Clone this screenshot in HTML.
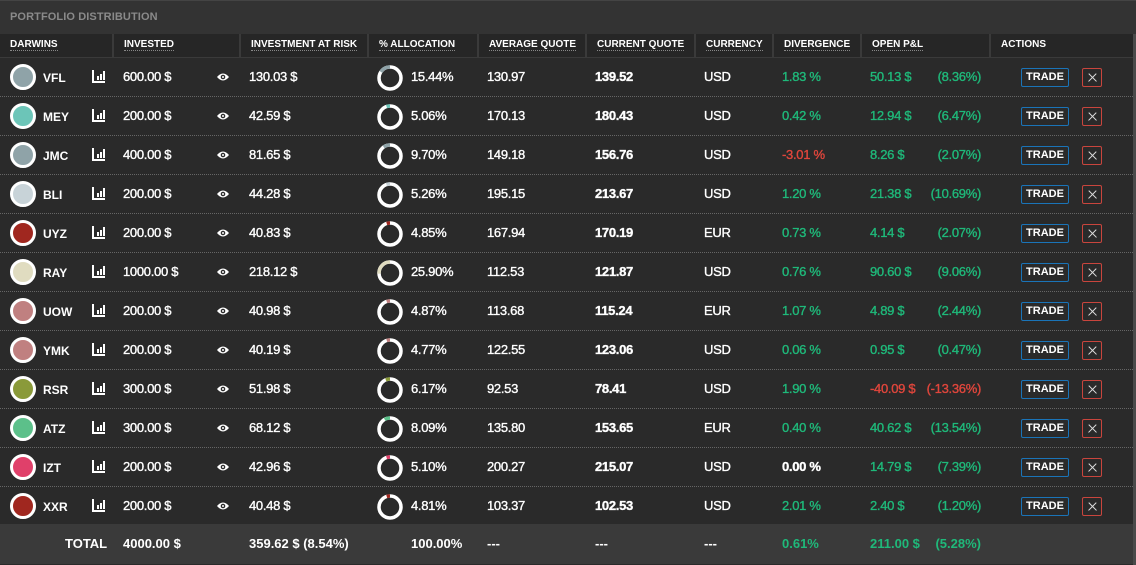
<!DOCTYPE html>
<html><head><meta charset="utf-8">
<style>
*{margin:0;padding:0;box-sizing:border-box}
body{width:1136px;height:565px;background:#2a2a2a;font-family:"Liberation Sans",sans-serif;color:#fff;overflow:hidden;position:relative}
.title{position:absolute;left:0;top:0;width:1136px;height:34px;background:#333;border-top:1px solid #444;font-size:11px;color:#8a8a8a;font-weight:bold;padding:10px 0 0 10px;letter-spacing:0.1px}
.hdr{position:absolute;top:34px;left:0;width:1134px;height:24px;background:#262626;border-bottom:1px solid #3a3a3a}
.hdr div{position:absolute;top:0;height:24px;border-right:2px solid #3a3a3a;font-size:10px;font-weight:bold;padding:5px 0 0 10px}
.hdr span{border-bottom:1px dotted #888}
.row{position:absolute;left:0;width:1133px;height:39px;border-bottom:1px dotted #666;font-size:13px}
.row>*{position:absolute}
.t{top:11px;letter-spacing:-0.3px;-webkit-text-stroke:0.35px currentColor}
.dot{left:10px;top:6px;width:26px;height:26px;border-radius:50%;border:3px solid #fff}
.nm{left:43px;top:13px;font-weight:bold;font-size:12px}
.ic{left:92px;top:12px;width:13px;height:13px;border-left:2px solid #fff;border-bottom:2px solid #fff}
.ic i{position:absolute;bottom:1px;width:2px;background:#fff}
.eye{left:216px;top:14px}
.don{left:376px;top:6px}
.g{color:#1fb97a}.r{color:#e0463c}
.pc{right:152px}
.tr{left:1021px;top:10px;width:48px;height:19px;border:1px solid #1a74b8;border-radius:2px;font-size:11px;font-weight:bold;text-align:center;line-height:17px}
.x{left:1082px;top:10px;width:20px;height:19px;border:1px solid #c9453d;border-radius:2px;background:#2a2a2a}
.x::before,.x::after{content:"";position:absolute;left:4px;top:8px;width:11px;height:1.3px;background:#ddd;transform:rotate(45deg)}
.x::after{transform:rotate(-45deg)}
.b{font-weight:bold}
.tot{position:absolute;left:0;top:524px;width:1133px;height:40px;background:#3a3a3a;font-size:13px;font-weight:bold}
.tot>*{position:absolute;top:12px}
.edge{position:absolute;left:1133px;top:34px;width:3px;height:531px;background:#4a4a4a}
</style></head><body>
<div class="title">PORTFOLIO DISTRIBUTION</div>
<div class="hdr">
<div style="left:0;width:114px"><span>DARWINS</span></div>
<div style="left:114px;width:127px"><span>INVESTED</span></div>
<div style="left:241px;width:128px"><span>INVESTMENT AT RISK</span></div>
<div style="left:369px;width:110px"><span>% ALLOCATION</span></div>
<div style="left:479px;width:108px"><span>AVERAGE QUOTE</span></div>
<div style="left:587px;width:109px"><span>CURRENT QUOTE</span></div>
<div style="left:696px;width:78px"><span>CURRENCY</span></div>
<div style="left:774px;width:88px"><span>DIVERGENCE</span></div>
<div style="left:862px;width:129px"><span>OPEN P&amp;L</span></div>
<div style="left:991px;width:143px;border-right:none">ACTIONS</div>
</div>

<div class="row" style="top:58px"><div class="dot" style="background:#8fa3a8"></div><div class="nm">VFL</div><div class="ic"><i style="left:3px;height:4px"></i><i style="left:6px;height:6px"></i><i style="left:9px;height:9px"></i></div><div class="t" style="left:123px">600.00 $</div><svg class="eye" width="14" height="10" viewBox="0 0 14 10"><path d="M1 5Q7 -2 13 5Q7 12 1 5Z" fill="#fff"/><circle cx="7" cy="5" r="2.3" fill="#2a2a2a"/><circle cx="7" cy="5" r="1" fill="#fff"/></svg><div class="t" style="left:249px">130.03 $</div><svg class="don" width="28" height="28" viewBox="-14 -14 28 28"><circle r="11" fill="none" stroke="#fff" stroke-width="3.5"/><circle r="11" fill="none" stroke="#8fa3a8" stroke-width="3.5" stroke-dasharray="10.67 100" transform="rotate(-90) scale(1,-1)"/></svg><div class="t" style="left:411px">15.44%</div><div class="t" style="left:487px">130.97</div><div class="t b" style="left:595px">139.52</div><div class="t" style="left:704px">USD</div><div class="t g" style="left:782px">1.83 %</div><div class="t g" style="left:870px">50.13 $</div><div class="t g pc">(8.36%)</div><div class="tr">TRADE</div><div class="x"></div></div>

<div class="row" style="top:97px"><div class="dot" style="background:#6cc5b8"></div><div class="nm">MEY</div><div class="ic"><i style="left:3px;height:4px"></i><i style="left:6px;height:6px"></i><i style="left:9px;height:9px"></i></div><div class="t" style="left:123px">200.00 $</div><svg class="eye" width="14" height="10" viewBox="0 0 14 10"><path d="M1 5Q7 -2 13 5Q7 12 1 5Z" fill="#fff"/><circle cx="7" cy="5" r="2.3" fill="#2a2a2a"/><circle cx="7" cy="5" r="1" fill="#fff"/></svg><div class="t" style="left:249px">42.59 $</div><svg class="don" width="28" height="28" viewBox="-14 -14 28 28"><circle r="11" fill="none" stroke="#fff" stroke-width="3.5"/><circle r="11" fill="none" stroke="#6cc5b8" stroke-width="3.5" stroke-dasharray="3.5 100" transform="rotate(-90) scale(1,-1)"/></svg><div class="t" style="left:411px">5.06%</div><div class="t" style="left:487px">170.13</div><div class="t b" style="left:595px">180.43</div><div class="t" style="left:704px">USD</div><div class="t g" style="left:782px">0.42 %</div><div class="t g" style="left:870px">12.94 $</div><div class="t g pc">(6.47%)</div><div class="tr">TRADE</div><div class="x"></div></div>

<div class="row" style="top:136px"><div class="dot" style="background:#8fa3a8"></div><div class="nm">JMC</div><div class="ic"><i style="left:3px;height:4px"></i><i style="left:6px;height:6px"></i><i style="left:9px;height:9px"></i></div><div class="t" style="left:123px">400.00 $</div><svg class="eye" width="14" height="10" viewBox="0 0 14 10"><path d="M1 5Q7 -2 13 5Q7 12 1 5Z" fill="#fff"/><circle cx="7" cy="5" r="2.3" fill="#2a2a2a"/><circle cx="7" cy="5" r="1" fill="#fff"/></svg><div class="t" style="left:249px">81.65 $</div><svg class="don" width="28" height="28" viewBox="-14 -14 28 28"><circle r="11" fill="none" stroke="#fff" stroke-width="3.5"/><circle r="11" fill="none" stroke="#8fa3a8" stroke-width="3.5" stroke-dasharray="6.7 100" transform="rotate(-90) scale(1,-1)"/></svg><div class="t" style="left:411px">9.70%</div><div class="t" style="left:487px">149.18</div><div class="t b" style="left:595px">156.76</div><div class="t" style="left:704px">USD</div><div class="t r" style="left:782px">-3.01 %</div><div class="t g" style="left:870px">8.26 $</div><div class="t g pc">(2.07%)</div><div class="tr">TRADE</div><div class="x"></div></div>

<div class="row" style="top:175px"><div class="dot" style="background:#c8d3d8"></div><div class="nm">BLI</div><div class="ic"><i style="left:3px;height:4px"></i><i style="left:6px;height:6px"></i><i style="left:9px;height:9px"></i></div><div class="t" style="left:123px">200.00 $</div><svg class="eye" width="14" height="10" viewBox="0 0 14 10"><path d="M1 5Q7 -2 13 5Q7 12 1 5Z" fill="#fff"/><circle cx="7" cy="5" r="2.3" fill="#2a2a2a"/><circle cx="7" cy="5" r="1" fill="#fff"/></svg><div class="t" style="left:249px">44.28 $</div><svg class="don" width="28" height="28" viewBox="-14 -14 28 28"><circle r="11" fill="none" stroke="#fff" stroke-width="3.5"/><circle r="11" fill="none" stroke="#c8d3d8" stroke-width="3.5" stroke-dasharray="3.6 100" transform="rotate(-90) scale(1,-1)"/></svg><div class="t" style="left:411px">5.26%</div><div class="t" style="left:487px">195.15</div><div class="t b" style="left:595px">213.67</div><div class="t" style="left:704px">USD</div><div class="t g" style="left:782px">1.20 %</div><div class="t g" style="left:870px">21.38 $</div><div class="t g pc">(10.69%)</div><div class="tr">TRADE</div><div class="x"></div></div>

<div class="row" style="top:214px"><div class="dot" style="background:#a0271f"></div><div class="nm">UYZ</div><div class="ic"><i style="left:3px;height:4px"></i><i style="left:6px;height:6px"></i><i style="left:9px;height:9px"></i></div><div class="t" style="left:123px">200.00 $</div><svg class="eye" width="14" height="10" viewBox="0 0 14 10"><path d="M1 5Q7 -2 13 5Q7 12 1 5Z" fill="#fff"/><circle cx="7" cy="5" r="2.3" fill="#2a2a2a"/><circle cx="7" cy="5" r="1" fill="#fff"/></svg><div class="t" style="left:249px">40.83 $</div><svg class="don" width="28" height="28" viewBox="-14 -14 28 28"><circle r="11" fill="none" stroke="#fff" stroke-width="3.5"/><circle r="11" fill="none" stroke="#a0271f" stroke-width="3.5" stroke-dasharray="3.35 100" transform="rotate(-90) scale(1,-1)"/></svg><div class="t" style="left:411px">4.85%</div><div class="t" style="left:487px">167.94</div><div class="t b" style="left:595px">170.19</div><div class="t" style="left:704px">EUR</div><div class="t g" style="left:782px">0.73 %</div><div class="t g" style="left:870px">4.14 $</div><div class="t g pc">(2.07%)</div><div class="tr">TRADE</div><div class="x"></div></div>

<div class="row" style="top:253px"><div class="dot" style="background:#e0dcc0"></div><div class="nm">RAY</div><div class="ic"><i style="left:3px;height:4px"></i><i style="left:6px;height:6px"></i><i style="left:9px;height:9px"></i></div><div class="t" style="left:123px">1000.00 $</div><svg class="eye" width="14" height="10" viewBox="0 0 14 10"><path d="M1 5Q7 -2 13 5Q7 12 1 5Z" fill="#fff"/><circle cx="7" cy="5" r="2.3" fill="#2a2a2a"/><circle cx="7" cy="5" r="1" fill="#fff"/></svg><div class="t" style="left:249px">218.12 $</div><svg class="don" width="28" height="28" viewBox="-14 -14 28 28"><circle r="11" fill="none" stroke="#fff" stroke-width="3.5"/><circle r="11" fill="none" stroke="#e0dcc0" stroke-width="3.5" stroke-dasharray="17.9 100" transform="rotate(-90) scale(1,-1)"/></svg><div class="t" style="left:411px">25.90%</div><div class="t" style="left:487px">112.53</div><div class="t b" style="left:595px">121.87</div><div class="t" style="left:704px">USD</div><div class="t g" style="left:782px">0.76 %</div><div class="t g" style="left:870px">90.60 $</div><div class="t g pc">(9.06%)</div><div class="tr">TRADE</div><div class="x"></div></div>

<div class="row" style="top:292px"><div class="dot" style="background:#c08080"></div><div class="nm">UOW</div><div class="ic"><i style="left:3px;height:4px"></i><i style="left:6px;height:6px"></i><i style="left:9px;height:9px"></i></div><div class="t" style="left:123px">200.00 $</div><svg class="eye" width="14" height="10" viewBox="0 0 14 10"><path d="M1 5Q7 -2 13 5Q7 12 1 5Z" fill="#fff"/><circle cx="7" cy="5" r="2.3" fill="#2a2a2a"/><circle cx="7" cy="5" r="1" fill="#fff"/></svg><div class="t" style="left:249px">40.98 $</div><svg class="don" width="28" height="28" viewBox="-14 -14 28 28"><circle r="11" fill="none" stroke="#fff" stroke-width="3.5"/><circle r="11" fill="none" stroke="#c08080" stroke-width="3.5" stroke-dasharray="3.37 100" transform="rotate(-90) scale(1,-1)"/></svg><div class="t" style="left:411px">4.87%</div><div class="t" style="left:487px">113.68</div><div class="t b" style="left:595px">115.24</div><div class="t" style="left:704px">EUR</div><div class="t g" style="left:782px">1.07 %</div><div class="t g" style="left:870px">4.89 $</div><div class="t g pc">(2.44%)</div><div class="tr">TRADE</div><div class="x"></div></div>

<div class="row" style="top:331px"><div class="dot" style="background:#c08080"></div><div class="nm">YMK</div><div class="ic"><i style="left:3px;height:4px"></i><i style="left:6px;height:6px"></i><i style="left:9px;height:9px"></i></div><div class="t" style="left:123px">200.00 $</div><svg class="eye" width="14" height="10" viewBox="0 0 14 10"><path d="M1 5Q7 -2 13 5Q7 12 1 5Z" fill="#fff"/><circle cx="7" cy="5" r="2.3" fill="#2a2a2a"/><circle cx="7" cy="5" r="1" fill="#fff"/></svg><div class="t" style="left:249px">40.19 $</div><svg class="don" width="28" height="28" viewBox="-14 -14 28 28"><circle r="11" fill="none" stroke="#fff" stroke-width="3.5"/><circle r="11" fill="none" stroke="#c08080" stroke-width="3.5" stroke-dasharray="3.3 100" transform="rotate(-90) scale(1,-1)"/></svg><div class="t" style="left:411px">4.77%</div><div class="t" style="left:487px">122.55</div><div class="t b" style="left:595px">123.06</div><div class="t" style="left:704px">USD</div><div class="t g" style="left:782px">0.06 %</div><div class="t g" style="left:870px">0.95 $</div><div class="t g pc">(0.47%)</div><div class="tr">TRADE</div><div class="x"></div></div>

<div class="row" style="top:370px"><div class="dot" style="background:#8a9a3a"></div><div class="nm">RSR</div><div class="ic"><i style="left:3px;height:4px"></i><i style="left:6px;height:6px"></i><i style="left:9px;height:9px"></i></div><div class="t" style="left:123px">300.00 $</div><svg class="eye" width="14" height="10" viewBox="0 0 14 10"><path d="M1 5Q7 -2 13 5Q7 12 1 5Z" fill="#fff"/><circle cx="7" cy="5" r="2.3" fill="#2a2a2a"/><circle cx="7" cy="5" r="1" fill="#fff"/></svg><div class="t" style="left:249px">51.98 $</div><svg class="don" width="28" height="28" viewBox="-14 -14 28 28"><circle r="11" fill="none" stroke="#fff" stroke-width="3.5"/><circle r="11" fill="none" stroke="#8a9a3a" stroke-width="3.5" stroke-dasharray="4.26 100" transform="rotate(-90) scale(1,-1)"/></svg><div class="t" style="left:411px">6.17%</div><div class="t" style="left:487px">92.53</div><div class="t b" style="left:595px">78.41</div><div class="t" style="left:704px">USD</div><div class="t g" style="left:782px">1.90 %</div><div class="t r" style="left:870px">-40.09 $</div><div class="t r pc">(-13.36%)</div><div class="tr">TRADE</div><div class="x"></div></div>

<div class="row" style="top:409px"><div class="dot" style="background:#5cc08a"></div><div class="nm">ATZ</div><div class="ic"><i style="left:3px;height:4px"></i><i style="left:6px;height:6px"></i><i style="left:9px;height:9px"></i></div><div class="t" style="left:123px">300.00 $</div><svg class="eye" width="14" height="10" viewBox="0 0 14 10"><path d="M1 5Q7 -2 13 5Q7 12 1 5Z" fill="#fff"/><circle cx="7" cy="5" r="2.3" fill="#2a2a2a"/><circle cx="7" cy="5" r="1" fill="#fff"/></svg><div class="t" style="left:249px">68.12 $</div><svg class="don" width="28" height="28" viewBox="-14 -14 28 28"><circle r="11" fill="none" stroke="#fff" stroke-width="3.5"/><circle r="11" fill="none" stroke="#5cc08a" stroke-width="3.5" stroke-dasharray="5.6 100" transform="rotate(-90) scale(1,-1)"/></svg><div class="t" style="left:411px">8.09%</div><div class="t" style="left:487px">135.80</div><div class="t b" style="left:595px">153.65</div><div class="t" style="left:704px">EUR</div><div class="t g" style="left:782px">0.40 %</div><div class="t g" style="left:870px">40.62 $</div><div class="t g pc">(13.54%)</div><div class="tr">TRADE</div><div class="x"></div></div>

<div class="row" style="top:448px"><div class="dot" style="background:#e0406a"></div><div class="nm">IZT</div><div class="ic"><i style="left:3px;height:4px"></i><i style="left:6px;height:6px"></i><i style="left:9px;height:9px"></i></div><div class="t" style="left:123px">200.00 $</div><svg class="eye" width="14" height="10" viewBox="0 0 14 10"><path d="M1 5Q7 -2 13 5Q7 12 1 5Z" fill="#fff"/><circle cx="7" cy="5" r="2.3" fill="#2a2a2a"/><circle cx="7" cy="5" r="1" fill="#fff"/></svg><div class="t" style="left:249px">42.96 $</div><svg class="don" width="28" height="28" viewBox="-14 -14 28 28"><circle r="11" fill="none" stroke="#fff" stroke-width="3.5"/><circle r="11" fill="none" stroke="#e0406a" stroke-width="3.5" stroke-dasharray="3.5 100" transform="rotate(-90) scale(1,-1)"/></svg><div class="t" style="left:411px">5.10%</div><div class="t" style="left:487px">200.27</div><div class="t b" style="left:595px">215.07</div><div class="t" style="left:704px">USD</div><div class="t b" style="left:782px">0.00 %</div><div class="t g" style="left:870px">14.79 $</div><div class="t g pc">(7.39%)</div><div class="tr">TRADE</div><div class="x"></div></div>

<div class="row" style="top:487px"><div class="dot" style="background:#a0271f"></div><div class="nm">XXR</div><div class="ic"><i style="left:3px;height:4px"></i><i style="left:6px;height:6px"></i><i style="left:9px;height:9px"></i></div><div class="t" style="left:123px">200.00 $</div><svg class="eye" width="14" height="10" viewBox="0 0 14 10"><path d="M1 5Q7 -2 13 5Q7 12 1 5Z" fill="#fff"/><circle cx="7" cy="5" r="2.3" fill="#2a2a2a"/><circle cx="7" cy="5" r="1" fill="#fff"/></svg><div class="t" style="left:249px">40.48 $</div><svg class="don" width="28" height="28" viewBox="-14 -14 28 28"><circle r="11" fill="none" stroke="#fff" stroke-width="3.5"/><circle r="11" fill="none" stroke="#a0271f" stroke-width="3.5" stroke-dasharray="3.32 100" transform="rotate(-90) scale(1,-1)"/></svg><div class="t" style="left:411px">4.81%</div><div class="t" style="left:487px">103.37</div><div class="t b" style="left:595px">102.53</div><div class="t" style="left:704px">USD</div><div class="t g" style="left:782px">2.01 %</div><div class="t g" style="left:870px">2.40 $</div><div class="t g pc">(1.20%)</div><div class="tr">TRADE</div><div class="x"></div></div>

<div class="tot">
<div style="left:65px">TOTAL</div><div style="left:123px">4000.00 $</div><div style="left:249px">359.62 $ (8.54%)</div><div style="left:411px">100.00%</div><div style="left:487px">---</div><div style="left:595px">---</div><div style="left:704px">---</div><div class="g" style="left:782px">0.61%</div><div class="g" style="left:870px">211.00 $</div><div class="g" style="right:152px">(5.28%)</div>
</div>
<div class="edge"></div>
</body></html>
